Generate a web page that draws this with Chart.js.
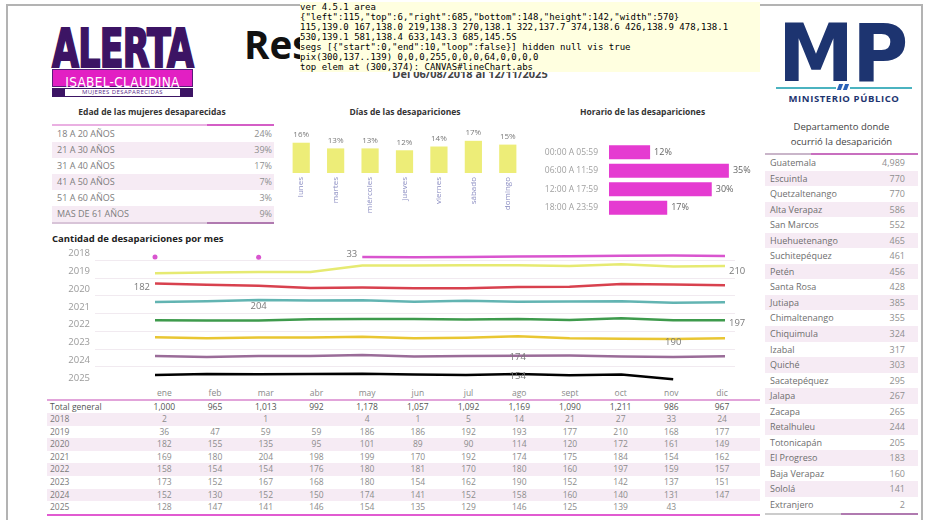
<!DOCTYPE html>
<html><head><meta charset="utf-8">
<script src="https://cdn.jsdelivr.net/npm/chart.js@4/dist/chart.umd.min.js"></script>
<style>
html,body{margin:0;padding:0;}
body{width:930px;height:524px;background:#fff;position:relative;overflow:hidden;font-family:"Open Sans",sans-serif;}
.abs{position:absolute;}
#frame{left:6px;top:4px;width:917px;height:516px;border:2px solid #b3b3b3;border-bottom:none;box-sizing:border-box;}
.fit{white-space:nowrap;display:inline-block;transform-origin:0 0;}
.tbl div.row{position:relative;box-sizing:border-box;}
.shade{background:#f6ebf4;}
.lbl{position:absolute;left:5px;color:#7d7d7d;}
.val{position:absolute;color:#8f8f8f;text-align:right;}
.sub{font-weight:700;color:#333;font-size:8.5px;text-align:center;}
</style></head>
<body>
<div id="frame" class="abs"></div>

<!-- ALERTA logo -->
<div class="abs" style="left:52px;top:22px;width:141px;height:50px;overflow:visible;">
  <span id="alerta" class="fit" style="font-family:'DejaVu Sans Condensed','DejaVu Sans';font-weight:700;font-size:54px;line-height:54px;color:#3c1464;letter-spacing:-1px;-webkit-text-stroke:2px #3c1464;">ALERTA</span>
</div>
<div class="abs" style="left:52px;top:69px;width:141px;height:18px;background:#e21fc3;border:1px solid #5a1a7a;box-sizing:border-box;text-align:center;">
  <span style="font-family:'DejaVu Sans Condensed','DejaVu Sans';color:#fff;font-size:13.5px;line-height:16px;letter-spacing:0.3px;">ISABEL-CLAUDINA</span>
</div>
<div class="abs" style="left:52px;top:88px;width:141px;height:9px;background:#3c1464;"></div>
<div class="abs" style="left:64px;top:88px;width:117px;height:9px;background:#fff;border:1px solid #3c1464;box-sizing:border-box;text-align:center;font-size:6px;line-height:7px;color:#5a2a8a;letter-spacing:0.4px;">MUJERES DESAPARECIDAS</div>

<!-- Title -->
<div class="abs" style="left:240px;top:22px;width:490px;text-align:center;">
  <span id="title" class="fit" style="font-family:'Open Sans';font-weight:700;font-size:40px;line-height:44px;color:#111;">Resumen de actividades</span>
</div>
<div class="abs" style="left:300px;top:66px;width:340px;text-align:center;font-weight:700;font-size:11px;color:#444;">Del 06/08/2018 al 12/11/2025</div>

<!-- MP logo -->
<div class="abs" style="left:778px;top:14px;width:128px;height:70px;">
  <span id="mp" class="fit" style="font-family:'DejaVu Sans';font-weight:700;font-size:80px;line-height:80px;color:#1d3470;letter-spacing:-2px;">MP</span>
</div>
<div class="abs" style="left:776px;top:87px;width:136px;height:2px;background:#4bb3c0;"></div>
<div class="abs" style="left:836px;top:84px;width:14px;height:7px;background:#fff;"></div>
<div class="abs" style="left:838px;top:84px;width:4px;height:6px;background:#2b62b8;transform:skewX(-20deg);"></div>
<div class="abs" style="left:844px;top:84px;width:4px;height:6px;background:#2b62b8;transform:skewX(-20deg);"></div>
<div class="abs" style="left:776px;top:92px;width:136px;text-align:center;font-weight:700;font-size:9.5px;color:#1d3470;letter-spacing:0.6px;">MINISTERIO PÚBLICO</div>

<!-- Age table -->
<div class="abs sub" style="left:52px;top:106px;width:200px;">Edad de las mujeres desaparecidas</div>
<div id="ageTbl" class="abs tbl" style="left:52px;top:124px;width:222px;"></div>

<!-- Days chart -->
<div class="abs sub" style="left:300px;top:106px;width:210px;">Días de las desapariciones</div>
<canvas id="daysChart" class="abs" style="left:284px;top:120px;" width="241" height="101"></canvas>

<!-- Hours chart -->
<div class="abs sub" style="left:545px;top:106px;width:195px;">Horario de las desapariciones</div>
<canvas id="hourChart" class="abs" style="left:525px;top:127px;" width="240" height="106"></canvas>

<!-- Department table -->
<div class="abs" style="left:765px;top:119px;width:153px;text-align:center;font-size:9.5px;line-height:15px;color:#444;">Departamento donde<br>ocurrió la desaparición</div>
<div id="deptTbl" class="abs tbl" style="left:765px;top:153px;width:153px;"></div>

<!-- Line chart -->
<div class="abs" style="left:52px;top:232px;font-weight:700;font-size:9.5px;color:#222;">Cantidad de desapariciones por mes</div>
<canvas id="lineChart" class="abs" style="left:40px;top:236px;z-index:2;" width="725" height="152"></canvas>

<!-- Monthly table -->
<div id="monthTbl" class="abs tbl" style="left:47px;top:386px;width:713px;"></div>

<div id="dbg" class="abs" style="left:300px;top:2px;width:460px;font:9px monospace;white-space:pre-wrap;background:#ffffe0;z-index:5;"></div>

<script>
// ---------- DATA ----------
const ageLabels = ['18 A 20 AÑOS','21 A 30 AÑOS','31 A 40 AÑOS','41 A 50 AÑOS','51 A 60 AÑOS','MAS DE 61 AÑOS'];
const agePct = [24,39,17,7,3,9];

const dayLabels = ['lunes','martes','miércoles','jueves','viernes','sábado','domingo'];
const dayPct = [16,13,13,12,14,17,15];

const hourLabels = ['00:00 A 05:59','06:00 A 11:59','12:00 A 17:59','18:00 A 23:59'];
const hourPct = [12,35,30,17];

const deptNames = ['Guatemala','Escuintla','Quetzaltenango','Alta Verapaz','San Marcos','Huehuetenango','Suchitepéquez','Petén','Santa Rosa','Jutiapa','Chimaltenango','Chiquimula','Izabal','Quiché','Sacatepéquez','Jalapa','Zacapa','Retalhuleu','Totonicapán','El Progreso','Baja Verapaz','Sololá','Extranjero'];
const deptCounts = [4989,770,770,586,552,465,461,456,428,385,355,324,317,303,295,267,265,244,205,183,160,141,2];

const months = ['ene','feb','mar','abr','may','jun','jul','ago','sept','oct','nov','dic'];
const totalGeneral = [1000,965,1013,992,1178,1057,1092,1169,1090,1211,986,967];
const years = ['2018','2019','2020','2021','2022','2023','2024','2025'];
const m2018 = [2,null,1,null,4,1,5,14,21,27,33,24];
const m2019 = [36,47,59,59,186,186,192,193,177,210,168,177];
const m2020 = [182,155,135,95,101,89,90,114,120,172,161,149];
const m2021 = [169,180,204,198,199,170,192,174,175,184,154,162];
const m2022 = [158,154,154,176,180,181,170,180,160,197,159,157];
const m2023 = [173,152,167,168,180,154,162,190,152,142,137,151];
const m2024 = [152,130,152,150,174,141,152,158,160,140,131,147];
const m2025 = [128,147,141,146,154,135,129,146,125,139,43,null];
const yearSeries = [m2018,m2019,m2020,m2021,m2022,m2023,m2024,m2025];

// ---------- STYLE ----------
const lineColors = ['#d955cf','#e6ea72','#d8414e','#62b4b2','#3e9a4c','#e9c633','#9a6c98','#000000'];
const FONT = "'Open Sans', sans-serif";
const fmt = n => n.toLocaleString('en-US');

function fit(id, w){ const el=document.getElementById(id); const s=w/el.offsetWidth; el.style.transform='scaleX('+s+')'; }
fit('alerta',141); fit('title',466); fit('mp',128);

// ---------- TABLES ----------
(function(){
  const t = document.getElementById('ageTbl');
  let h = '<div style="height:2px;background:linear-gradient(90deg,#eab0e2 70%,#d45ec6 70%);"></div>';
  ageLabels.forEach((l,i)=>{
    h += `<div class="row ${i%2?'shade':''}" style="height:16px;font-size:9px;line-height:16px;">
      <span class="lbl">${l}</span><span class="val" style="right:2px;">${agePct[i]}%</span></div>`;
  });
  h += '<div style="height:2px;background:linear-gradient(90deg,#d8c4d8 70%,#b07ab0 70%);"></div>';
  t.innerHTML = h;
})();

(function(){
  const t = document.getElementById('deptTbl');
  let h = '<div style="height:2px;background:linear-gradient(90deg,#c9b5c9 30%,#c86fbf 30%);"></div>';
  deptNames.forEach((l,i)=>{
    h += `<div class="row ${i%2?'shade':''}" style="height:15.55px;font-size:9px;line-height:15.55px;">
      <span class="lbl" style="color:#6e6e6e;">${l}</span><span class="val" style="right:13px;">${fmt(deptCounts[i])}</span></div>`;
  });
  h += '<div style="height:2px;background:linear-gradient(90deg,#ccc 50%,#b07ab0 50%);"></div>';
  t.innerHTML = h;
})();

(function(){
  const t = document.getElementById('monthTbl');
  const colW = 50.7, lblW = 92;
  const cell = (txt, i, color) => `<span class="val" style="left:${lblW+i*colW}px;width:${colW}px;text-align:center;color:${color};">${txt}</span>`;
  let h = `<div class="row" style="height:13px;font-size:8.5px;line-height:13px;">${months.map((m,i)=>cell(m,i,'#8a8a8a')).join('')}</div>`;
  h += '<div style="height:1.5px;background:#e2a4da;"></div>';
  const rows = [['Total general', totalGeneral]].concat(years.map((y,i)=>[y, yearSeries[i]]));
  rows.forEach((r,ri)=>{
    h += `<div class="row ${ri%2?'shade':''}" style="height:12.6px;font-size:8.5px;line-height:12.6px;">
      <span class="lbl" style="left:3px;color:${ri===0?'#555':'#7a7a7a'};">${r[0]}</span>
      ${r[1].map((v,i)=>v==null?'':cell(fmt(v),i,ri===0?'#555':'#8c8c8c')).join('')}</div>`;
  });
  h += '<div style="height:2.5px;background:#e15bd1;"></div>';
  t.innerHTML = h;
})();

// ---------- CHARTS ----------
Chart.defaults.font.family = FONT;
Chart.defaults.animation = false;

const barValueLabels = {
  id:'barValueLabels',
  afterDatasetsDraw(chart, args, opts){
    const ctx = chart.ctx; const ds = chart.data.datasets[0];
    const meta = chart.getDatasetMeta(0);
    ctx.save(); ctx.font = `${opts.size||8}px ${FONT}`; ctx.fillStyle = opts.color||'#777';
    meta.data.forEach((el,i)=>{
      const v = ds.data[i] + '%';
      if (opts.horizontal){ ctx.textAlign='left'; ctx.textBaseline='middle'; ctx.fillText(v, el.x+4, el.y); }
      else { ctx.textAlign='center'; ctx.textBaseline='bottom'; ctx.fillText(v, el.x, el.y-4); }
    });
    ctx.restore();
  }
};

new Chart(document.getElementById('daysChart'), {
  type:'bar',
  data:{labels:dayLabels, datasets:[{data:dayPct, backgroundColor:'#eded78', categoryPercentage:1, barPercentage:0.5}]},
  options:{responsive:false, events:[],
    layout:{padding:0},
    plugins:{legend:{display:false}, tooltip:{enabled:false}, barValueLabels:{size:8, color:'#7a7a7a'}},
    scales:{
      x:{grid:{display:false, drawTicks:false}, border:{display:false},
         ticks:{autoSkip:false, maxRotation:90, minRotation:90, color:'#8b8dc2', font:{size:8}, padding:4},
         afterFit:s=>{s.height=48; s.paddingLeft=0; s.paddingRight=0;}},
      y:{display:false, min:0, max:28}
    }},
  plugins:[barValueLabels]
});

new Chart(document.getElementById('hourChart'), {
  type:'bar',
  data:{labels:hourLabels, datasets:[{data:hourPct, backgroundColor:'#e53bd1', categoryPercentage:1, barPercentage:0.76}]},
  options:{responsive:false, indexAxis:'y', events:[],
    layout:{padding:{top:2,bottom:3,right:19}},
    plugins:{legend:{display:false}, tooltip:{enabled:false}, barValueLabels:{size:9, color:'#666', horizontal:true}},
    scales:{
      x:{display:false, min:0, max:40},
      y:{grid:{display:false, drawTicks:false}, border:{display:false},
         ticks:{color:'#a0a0a0', font:{size:8.5}, padding:11},
         afterFit:s=>{s.width=84;}}
    }},
  plugins:[barValueLabels]
});

const BAND_LO = -50, BAND_HI = 300, BAND = BAND_HI - BAND_LO, N = years.length;

const rowDecor = {
  id:'rowDecor',
  beforeDatasetsDraw(chart, args, opts){
    const ctx = chart.ctx, area = chart.chartArea;
    ctx.save();
    ctx.strokeStyle = '#f1eaf0'; ctx.lineWidth = 1;
    years.forEach((yr,i)=>{
      const y = Math.round(chart.scales['y'+i].getPixelForValue(BAND_HI)) + 0.5;
      if (i>0){ ctx.beginPath(); ctx.moveTo(area.left-60, y); ctx.lineTo(area.right+10, y); ctx.stroke(); }
    });
    ctx.restore();
  },
  afterDatasetsDraw(chart, args, opts){
    const ctx = chart.ctx, area = chart.chartArea;
    ctx.save(); ctx.textBaseline='middle';
    ctx.font = `9.5px ${FONT}`; ctx.fillStyle = '#9a9a9a'; ctx.textAlign='right';
    years.forEach((yr,i)=>{ ctx.fillText(yr, area.left - 65, chart.scales['y'+i].getPixelForValue(opts.labelValue)); });
    ctx.fillStyle = '#7a7a7a';
    chart.data.datasets.forEach((ds,i)=>{
      const maxV = Math.max(...ds.data.filter(v=>v!=null));
      const a = opts.anchors[i];
      const xs = chart.scales.x.getPixelForValue(a[0]);
      const ys = chart.scales['y'+i].getPixelForValue(ds.data[a[0]]);
      ctx.textAlign = a[1];
      ctx.fillText(String(maxV), xs + a[2], ys + a[3]);
    });
    ctx.restore();
  }
};

const lineScales = { x:{type:'category', display:false, offset:false} };
years.forEach((yr,i)=>{
  lineScales['y'+i] = { type:'linear', display:false,
    min: BAND_LO - (N-1-i)*BAND, max: BAND_HI + i*BAND };
});

const lc = new Chart(document.getElementById('lineChart'), {
  type:'line',
  data:{labels:months, datasets: years.map((yr,i)=>({
    label:yr, data:yearSeries[i], yAxisID:'y'+i, borderColor:lineColors[i], backgroundColor:lineColors[i],
    borderWidth:2.5, tension:0,
    pointRadius: c => { const d=c.dataset.data, j=c.dataIndex; if(d[j]==null) return 0;
      const p = j>0?d[j-1]:null, n = j<d.length-1?d[j+1]:null; return (p==null&&n==null)?2.5:0; },
    pointBorderWidth:0
  }))},
  options:{responsive:false, events:[],
    layout:{padding:{top:6,bottom:4,right:40,left:115}},
    plugins:{legend:{display:false}, tooltip:{enabled:false},
      rowDecor:{labelValue:70,
        anchors:[[4,'right',-5,-3],[11,'left',4,5],[0,'right',-5,4],[2,'center',0,6],[11,'left',4,3],[10,'center',0,3],[7,'center',0,2],[7,'center',0,2]]}},
    scales: lineScales
  },
  plugins:[rowDecor]
});

// diagnostics
const m7 = lc.getDatasetMeta(7);
const px = lc.ctx.getImageData(300, 138, 1, 3).data;
const el = document.elementFromPoint(300, 374);
document.getElementById('dbg').textContent =
  'ver '+Chart.version+' area '+JSON.stringify(lc.chartArea)+'\n'+
  m7.data.map(p=>p.x.toFixed(0)+','+p.y.toFixed(1)+(p.skip?'S':'')).join(' ')+'\n'+
  'segs '+JSON.stringify(m7.dataset.segments)+' hidden '+m7.hidden+' vis '+lc.isDatasetVisible(7)+'\n'+
  'pix(300,137..139) '+Array.from(px).join(',')+'\n'+
  'top elem at (300,374): '+(el? el.tagName+'#'+el.id+'.'+el.className : 'none');
</script>
</body></html>
